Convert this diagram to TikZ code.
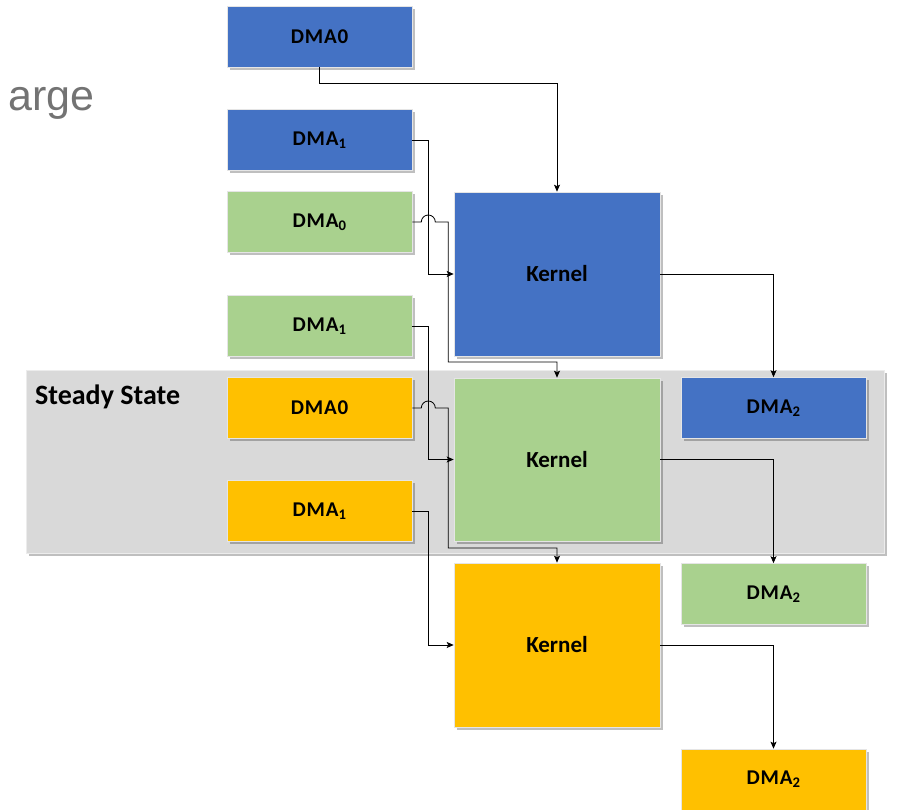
\documentclass[tikz,border=0pt]{standalone}
\usepackage{fontspec}
\setmainfont{Carlito}
\newfontfamily\slidefont{Liberation Sans}
\usetikzlibrary{arrows.meta,shadows}

\definecolor{dmablue}{HTML}{4472C4}
\definecolor{dmagreen}{HTML}{A9D18E}
\definecolor{dmayellow}{HTML}{FFC000}
\definecolor{panelgray}{HTML}{D9D9D9}
\definecolor{slidegray}{HTML}{737373}

\begin{document}
\begin{tikzpicture}[x=1pt,y=1pt]

  \useasboundingbox (0,0) rectangle (900,810);
  \node[anchor=center,inner sep=0] (X) at (0,0) {};

  % node styles
  \tikzstyle{Box}=[
  shape=rectangle,
  draw=white!80!gray,
  line width=0.6pt,
  inner sep=0pt,
  font=\bfseries\fontsize{21}{21}\selectfont\addfontfeatures{LetterSpace=4},
  minimum width=185,
  minimum height=61,
  drop shadow={shadow xshift=3pt,shadow yshift=-3pt,fill=black,opacity=0.25}]

  \tikzstyle{Kernel}=[Box,
  font=\bfseries\fontsize{23}{23}\selectfont,
  minimum width=206,
  minimum height=164]

  \tikzstyle{Panel}=[
  shape=rectangle,
  fill=panelgray,
  draw=white!85!gray,
  line width=0.6pt,
  minimum width=858,
  minimum height=183,
  drop shadow={shadow xshift=3pt,shadow yshift=-3pt,fill=black,opacity=0.25}]

  \tikzstyle{Label}=[font=\bfseries\fontsize{28}{28}\selectfont,inner sep=0pt]

  \tikzstyle{Link}=[line width=0.8pt,-{Stealth[length=7pt,width=6pt,inset=1.5pt]}]

  % steady state panel
  \draw (X) node[Panel] (S) at +(455.0, 348.5) {};
  \draw (X) node[Label,anchor=base west] (SL) at +(35.0, 405.0) {Steady State};

  % cut off slide title
  \draw (X) node[anchor=base east,inner sep=0pt,text=slidegray,
    font=\slidefont\fontsize{43}{43}\selectfont] (T) at +(95.0, 699.0) {arge};

  % input DMAs
  \draw (X) node[Box,fill=  dmablue] (B0) at +(319.5, 773.5) {DMA0};
  \draw (X) node[Box,fill=  dmablue] (B1) at +(319.5, 670.0) {DMA\textsubscript{1}};
  \draw (X) node[Box,fill= dmagreen] (G0) at +(319.5, 588.0) {DMA\textsubscript{0}};
  \draw (X) node[Box,fill= dmagreen] (G1) at +(319.5, 484.0) {DMA\textsubscript{1}};
  \draw (X) node[Box,fill=dmayellow] (Y0) at +(319.5, 402.0) {DMA0};
  \draw (X) node[Box,fill=dmayellow] (Y1) at +(319.5, 299.0) {DMA\textsubscript{1}};

  % kernels
  \draw (X) node[Kernel,fill=  dmablue] (BK) at +(557.0, 536.0) {Kernel};
  \draw (X) node[Kernel,fill= dmagreen,minimum height=163] (GK) at +(557.0, 350.5) {Kernel};
  \draw (X) node[Kernel,fill=dmayellow] (YK) at +(557.0, 165.0) {Kernel};

  % output DMAs
  \draw (X) node[Box,fill=  dmablue] (B2) at +(773.5, 402.0) {DMA\textsubscript{2}};
  \draw (X) node[Box,fill= dmagreen] (G2) at +(773.5, 216.0) {DMA\textsubscript{2}};
  \draw (X) node[Box,fill=dmayellow] (Y2) at +(773.5,  30.5) {DMA\textsubscript{2}};

  % connectors
  \draw[Link] (B0.south) -- +(0,-16) -| (BK.north);
  \draw[Link] (B1.east) -- +(16,0) |- (BK.west);
  \draw[Link] (G0.east) -- ++(9,0) arc[start angle=180,end angle=0,radius=7]
    -- ++(13,0) -- ++(0,-140) -| (GK.north);
  \draw[Link] (G1.east) -- +(16,0) |- (GK.west);
  \draw[Link] (Y0.east) -- ++(9,0) arc[start angle=180,end angle=0,radius=7]
    -- ++(13,0) -- ++(0,-140) -| (YK.north);
  \draw[Link] (Y1.east) -- +(16,0) |- (YK.west);

  \draw[Link] (BK.east) -| (B2.north);
  \draw[Link] (GK.east) -| (G2.north);
  \draw[Link] (YK.east) -| (Y2.north);

\end{tikzpicture}
\end{document}
